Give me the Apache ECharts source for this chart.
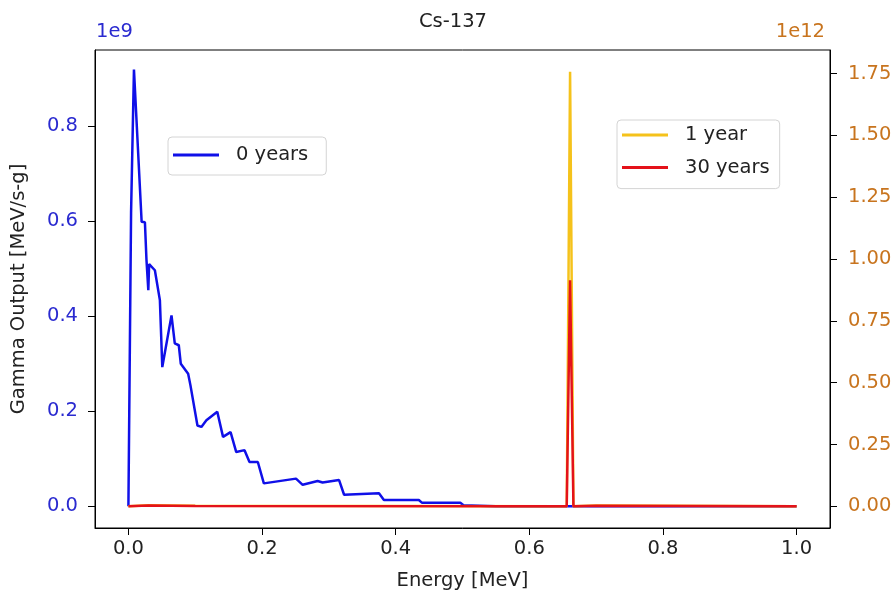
<!DOCTYPE html>
<html>
<head>
<meta charset="utf-8">
<script src="https://cdn.jsdelivr.net/npm/echarts@6/dist/echarts.min.js"></script>
<style>
html,body{margin:0;padding:0;background:#fff;}
#chart{width:896px;height:597px;}
</style>
</head>
<body>
<div id="chart"></div>
<script>
// ---- Data (energies in MeV) ----
// 0 years: gamma output in units of 1e9 MeV/s-g (left axis)
const energy0 = [0.000, 0.0012, 0.004, 0.0083, 0.0198, 0.0247, 0.027, 0.0298, 0.031, 0.0337, 0.0396, 0.0471, 0.0507,
  0.0645, 0.0694, 0.0754, 0.0784, 0.0894, 0.0928, 0.0954, 0.1033, 0.1092, 0.1167, 0.133, 0.1416, 0.1529,
  0.1614, 0.1738, 0.1812, 0.1937, 0.2027, 0.2508, 0.2608, 0.2832, 0.2906, 0.3153, 0.3228, 0.375, 0.3824,
  0.4346, 0.4396, 0.4967, 0.5016, 0.55, 1.0];
const output0 = [0.0, 0.0, 0.62, 0.92, 0.599, 0.598, 0.52, 0.455, 0.51, 0.514, 0.497, 0.434, 0.293,
  0.402, 0.343, 0.339, 0.30, 0.279, 0.255, 0.259, 0.17, 0.167, 0.181, 0.199, 0.146, 0.156,
  0.114, 0.118, 0.093, 0.093, 0.048, 0.058, 0.045, 0.053, 0.05, 0.055, 0.024, 0.027, 0.013,
  0.013, 0.007, 0.007, 0.002, 0.0, 0.0];
// 1 year and 30 years: gamma output in units of 1e12 MeV/s-g (right axis)
const energyDecay = [0.0, 0.03, 0.1, 0.656, 0.661, 0.666, 0.7, 1.0];
const output1yr = [0.0, 0.004, 0.002, 0.0, 1.757, 0.0, 0.003, 0.0];
const output30yr = [0.0, 0.003, 0.001, 0.0, 0.914, 0.0, 0.002, 0.0];
// Tick labels
const xTicks = [0, 0.2, 0.4, 0.6, 0.8, 1.0];
const yLeftTicks = [0, 0.2, 0.4, 0.6, 0.8];
const yRightTicks = [0, 0.25, 0.5, 0.75, 1.0, 1.25, 1.5, 1.75];

const pairs = (xs, ys) => xs.map((x, i) => [x, ys[i]]);

const BLUE = '#1010e8';
const YEL = '#f5c21b';
const RED = '#e4121a';
const LCOL = '#2a2ad0';
const RCOL = '#c8741e';
const FONT = 'DejaVu Sans';
const FS = 19.5;

const chart = echarts.init(document.getElementById('chart'), null, {renderer: 'canvas'});
chart.setOption({
  animation: false,
  backgroundColor: '#fff',
  textStyle: {fontFamily: FONT},
  grid: {left: 95, right: 66, top: 50, bottom: 69, show: true, borderColor: '#000', borderWidth: 1, containLabel: false},
  xAxis: {
    type: 'value', min: -0.05, max: 1.05,
    name: 'Energy [MeV]', nameLocation: 'middle', nameGap: 43,
    nameTextStyle: {color: '#222', fontSize: FS, fontFamily: FONT},
    axisLine: {show: true, onZero: false, lineStyle: {color: '#000', width: 1}},
    axisTick: {show: true, inside: false, length: 7, lineStyle: {color: '#000'}, customValues: xTicks},
    axisLabel: {show: true, margin: 11, color: '#222', fontSize: FS, fontFamily: FONT,
      customValues: xTicks, formatter: v => v.toFixed(1)},
    splitLine: {show: false}
  },
  yAxis: [{
    type: 'value', min: -0.046, max: 0.961, position: 'left',
    name: 'Gamma Output [MeV/s-g]', nameLocation: 'middle', nameGap: 66,
    nameTextStyle: {color: '#222', fontSize: FS, fontFamily: FONT},
    axisLine: {show: true, onZero: false, lineStyle: {color: '#000', width: 1}},
    axisTick: {show: true, inside: false, length: 7, lineStyle: {color: '#000'}, customValues: yLeftTicks},
    axisLabel: {show: true, margin: 17, color: LCOL, fontSize: FS, fontFamily: FONT,
      customValues: yLeftTicks, formatter: v => v.toFixed(1)},
    splitLine: {show: false}
  }, {
    type: 'value', min: -0.0878, max: 1.845, position: 'right',
    axisLine: {show: true, onZero: false, lineStyle: {color: '#000', width: 1}},
    axisTick: {show: true, inside: false, length: 7, lineStyle: {color: '#000'}, customValues: yRightTicks},
    axisLabel: {show: true, margin: 18, color: RCOL, fontSize: FS, fontFamily: FONT,
      customValues: yRightTicks, formatter: v => v.toFixed(2)},
    splitLine: {show: false}
  }],
  legend: [{
    data: [{name: '0 years', icon: 'rect'}],
    left: 168, top: 137, orient: 'vertical',
    padding: [7, 18, 9, 5], itemWidth: 46, itemHeight: 3,
    backgroundColor: 'rgba(255,255,255,0.8)', borderColor: '#d4d4d4', borderWidth: 1, borderRadius: 4,
    textStyle: {color: '#222', fontSize: FS, fontFamily: FONT, lineHeight: 22, padding: [0, 0, 0, 12]}
  }, {
    data: [{name: '1 year', icon: 'rect'}, {name: '30 years', icon: 'rect'}],
    left: 617, top: 120, orient: 'vertical', itemGap: 10.6,
    padding: [4, 10, 10, 5], itemWidth: 46, itemHeight: 3,
    backgroundColor: 'rgba(255,255,255,0.8)', borderColor: '#d4d4d4', borderWidth: 1, borderRadius: 4,
    textStyle: {color: '#222', fontSize: FS, fontFamily: FONT, lineHeight: 22, padding: [0, 0, 0, 12]}
  }],
  series: [{
    name: '0 years', type: 'line', yAxisIndex: 0, showSymbol: false, symbol: 'none',
    data: pairs(energy0, output0), lineStyle: {color: BLUE, width: 2.5}, itemStyle: {color: BLUE}
  }, {
    name: '1 year', type: 'line', yAxisIndex: 1, showSymbol: false, symbol: 'none',
    data: pairs(energyDecay, output1yr), lineStyle: {color: YEL, width: 2.5}, itemStyle: {color: YEL}
  }, {
    name: '30 years', type: 'line', yAxisIndex: 1, showSymbol: false, symbol: 'none',
    data: pairs(energyDecay, output30yr), lineStyle: {color: RED, width: 2.5}, itemStyle: {color: RED}
  }],
  graphic: [
    {type: 'text', left: 419, top: 12, style: {text: 'Cs-137', fill: '#222', fontSize: FS, fontFamily: FONT}},
    {type: 'text', left: 96, top: 22, style: {text: '1e9', fill: LCOL, fontSize: FS, fontFamily: FONT}},
    {type: 'text', right: 71, top: 22, style: {text: '1e12', fill: RCOL, fontSize: FS, fontFamily: FONT}}
  ]
});
</script>
</body>
</html>
